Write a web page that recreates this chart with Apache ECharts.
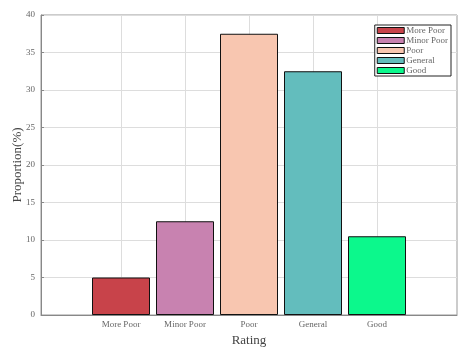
<!DOCTYPE html>
<html>
<head>
<meta charset="utf-8">
<script src="https://cdn.jsdelivr.net/npm/echarts@6/dist/echarts.min.js"></script>
<style>
html,body{margin:0;padding:0;background:#fff;}
#main{width:467px;height:353px;}
</style>
</head>
<body>
<div id="main"></div>
<script>
var ratings = ["More Poor", "Minor Poor", "Poor", "General", "Good"];
var proportions = [5, 12.5, 37.5, 32.5, 10.5];
var barColors = ["#c8434a", "#c882b0", "#f8c6b0", "#63bdbd", "#0cf88c"];
var yTicks = [0, 5, 10, 15, 20, 25, 30, 35, 40];
var xPositions = [1, 2, 3, 4, 5];

var font = "Liberation Serif";

function buildSeries() {
    var list = [];
    for (var i = 0; i < ratings.length; i++) {
        list.push({
            name: ratings[i],
            type: 'bar',
            barWidth: 58,
            barGap: '-100%',
            itemStyle: {
                color: barColors[i],
                borderColor: '#111',
                borderWidth: 1
            },
            data: [[xPositions[i], proportions[i]]]
        });
    }
    return list;
}

var main = echarts.init(document.getElementById("main"));
main.setOption({
    animation: false,
    textStyle: { fontFamily: font },
    grid: {
        left: 41,
        right: 10,
        top: 15,
        bottom: 38,
        outerBoundsMode: 'none',
        containLabel: false,
        show: true,
        borderColor: '#999',
        borderWidth: 1
    },
    legend: {
        data: ratings,
        orient: 'vertical',
        right: 16,
        top: 25,
        icon: 'rect',
        itemWidth: 27,
        itemHeight: 6,
        itemGap: 1,
        padding: [1, 3, 1, 2],
        borderColor: '#222',
        borderWidth: 1,
        backgroundColor: '#fff',
        textStyle: { fontFamily: font, fontSize: 9, lineHeight: 8, color: '#666', padding: [0, 0, 0, -3] },
        itemStyle: { borderColor: '#111', borderWidth: 1 }
    },
    xAxis: {
        type: 'value',
        min: -0.25,
        max: 6.25,
        name: 'Rating',
        nameLocation: 'middle',
        nameGap: 17,
        nameTextStyle: { fontFamily: font, fontSize: 13, color: '#444' },
        axisLine: { show: true, onZero: false, lineStyle: { color: '#888' } },
        axisTick: { show: true, inside: true, length: 3, customValues: xPositions, lineStyle: { color: '#888' } },
        axisLabel: {
            customValues: xPositions,
            fontFamily: font,
            fontSize: 9,
            color: '#666',
            margin: 5,
            formatter: function (v) { return ratings[v - 1] || ''; }
        },
        splitLine: { show: true, customValues: xPositions, lineStyle: { color: '#ddd' } }
    },
    yAxis: {
        type: 'value',
        min: 0,
        max: 40,
        interval: 5,
        name: 'Proportion(%)',
        nameLocation: 'middle',
        nameGap: 17,
        nameMoveOverlap: false,
        nameTextStyle: { fontFamily: font, fontSize: 13, color: '#444' },
        axisLine: { show: true, onZero: false, lineStyle: { color: '#888' } },
        axisTick: { show: true, inside: true, length: 3, lineStyle: { color: '#888' } },
        axisLabel: {
            fontFamily: font,
            fontSize: 9,
            color: '#666',
            margin: 6,
            formatter: function (v) { return yTicks.indexOf(v) >= 0 ? String(v) : ''; }
        },
        splitLine: { show: true, lineStyle: { color: '#ddd' } }
    },
    series: buildSeries()
});
</script>
</body>
</html>
